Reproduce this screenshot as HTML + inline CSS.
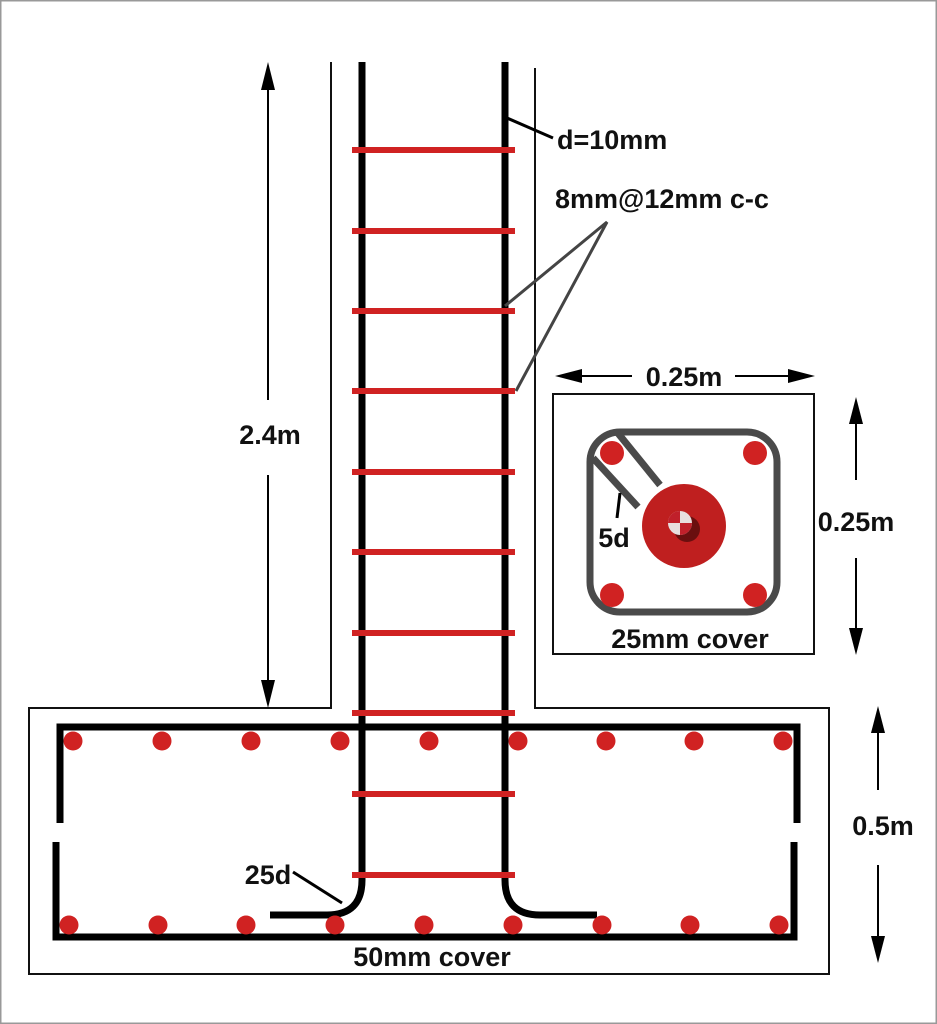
<!DOCTYPE html>
<html><head><meta charset="utf-8"><style>
html,body{margin:0;padding:0;background:#fff}
svg{display:block}
text{font-family:"Liberation Sans Narrow","Liberation Sans",sans-serif;font-weight:bold;font-size:27px;fill:#111}
</style></head><body>
<svg width="937" height="1024" viewBox="0 0 937 1024" xmlns="http://www.w3.org/2000/svg">
<rect x="0.75" y="0.75" width="935.5" height="1022.5" fill="#fff" stroke="#999" stroke-width="1.5"/>
<path d="M331 62 V708 H29 V974 H829 V708 H535 V68" fill="none" stroke="#111" stroke-width="2"/>
<path d="M362 62 V880 Q362 915 327 915 H270" fill="none" stroke="#000" stroke-width="7"/>
<path d="M505 62 V880 Q505 915 540 915 H597" fill="none" stroke="#000" stroke-width="7"/>
<path d="M60 823 V727 H797 V823" fill="none" stroke="#000" stroke-width="7"/>
<path d="M56 842 V937 H794 V842" fill="none" stroke="#000" stroke-width="7"/>
<g stroke="#d02222" stroke-width="6">
<line x1="352" y1="150" x2="515" y2="150"/>
<line x1="352" y1="231" x2="515" y2="231"/>
<line x1="352" y1="311" x2="515" y2="311"/>
<line x1="352" y1="391" x2="515" y2="391"/>
<line x1="352" y1="472" x2="515" y2="472"/>
<line x1="352" y1="552" x2="515" y2="552"/>
<line x1="352" y1="633" x2="515" y2="633"/>
<line x1="352" y1="713" x2="515" y2="713"/>
<line x1="352" y1="794" x2="515" y2="794"/>
<line x1="352" y1="875" x2="515" y2="875"/>
</g>
<g fill="#d02222">
<circle cx="73" cy="741" r="9.5"/><circle cx="162" cy="741" r="9.5"/><circle cx="251" cy="741" r="9.5"/><circle cx="340" cy="741" r="9.5"/><circle cx="429" cy="741" r="9.5"/><circle cx="518" cy="741" r="9.5"/><circle cx="606" cy="741" r="9.5"/><circle cx="694" cy="741" r="9.5"/><circle cx="783" cy="741" r="9.5"/>
<circle cx="69" cy="925" r="9.5"/><circle cx="158" cy="925" r="9.5"/><circle cx="246" cy="925" r="9.5"/><circle cx="335" cy="925" r="9.5"/><circle cx="424" cy="925" r="9.5"/><circle cx="513" cy="925" r="9.5"/><circle cx="602" cy="925" r="9.5"/><circle cx="690" cy="925" r="9.5"/><circle cx="779" cy="925" r="9.5"/>
</g>
<g stroke="#000" stroke-width="2">
<line x1="268" y1="85" x2="268" y2="400"/>
<line x1="268" y1="475" x2="268" y2="685"/>
</g>
<polygon points="268,62 261,90 275,90" fill="#000"/>
<polygon points="268,708 261,680 275,680" fill="#000"/>
<text x="270" y="444" text-anchor="middle">2.4m</text>
<line x1="507" y1="118" x2="553" y2="138" stroke="#000" stroke-width="3"/>
<text x="557" y="149">d=10mm</text>
<text x="555" y="208">8mm@12mm c-c</text>
<polyline points="505,306 607,222 516,391" fill="none" stroke="#444" stroke-width="3"/>
<rect x="553" y="394" width="261" height="260" fill="none" stroke="#111" stroke-width="2"/>
<line x1="578" y1="376" x2="632" y2="376" stroke="#000" stroke-width="2"/>
<line x1="735" y1="376" x2="792" y2="376" stroke="#000" stroke-width="2"/>
<polygon points="555,376 582,369 582,383" fill="#000"/>
<polygon points="815,376 788,369 788,383" fill="#000"/>
<text x="684" y="386" text-anchor="middle">0.25m</text>
<line x1="856" y1="420" x2="856" y2="480" stroke="#000" stroke-width="2"/>
<line x1="856" y1="558" x2="856" y2="632" stroke="#000" stroke-width="2"/>
<polygon points="856,397 849,424 863,424" fill="#000"/>
<polygon points="856,655 849,628 863,628" fill="#000"/>
<text x="856" y="531" text-anchor="middle">0.25m</text>
<rect x="590" y="432" width="187" height="180" rx="30" fill="none" stroke="#4a4a4a" stroke-width="7"/>
<line x1="617" y1="432" x2="660" y2="485" stroke="#4a4a4a" stroke-width="7"/>
<line x1="593" y1="458" x2="638" y2="507" stroke="#4a4a4a" stroke-width="7"/>
<g fill="#d02222">
<circle cx="612" cy="453" r="12"/><circle cx="755" cy="453" r="12"/><circle cx="612" cy="595" r="12"/><circle cx="755" cy="595" r="12"/>
</g>
<circle cx="684" cy="526" r="42" fill="#bf1f1f"/>
<circle cx="687" cy="529" r="13" fill="#6a0f0f"/>
<circle cx="680" cy="523" r="12" fill="#e8dede"/>
<path d="M680 523 V511 A12 12 0 0 0 668 523 Z" fill="#c0202a"/>
<path d="M680 523 V535 A12 12 0 0 0 692 523 Z" fill="#c0202a"/>
<line x1="620" y1="493" x2="617" y2="518" stroke="#000" stroke-width="3"/>
<text x="614" y="547" text-anchor="middle">5d</text>
<text x="690" y="648" text-anchor="middle">25mm cover</text>
<line x1="293" y1="872" x2="342" y2="903" stroke="#000" stroke-width="3"/>
<text x="268" y="884" text-anchor="middle">25d</text>
<text x="432" y="966" text-anchor="middle">50mm cover</text>
<line x1="878" y1="730" x2="878" y2="790" stroke="#000" stroke-width="2"/>
<line x1="878" y1="865" x2="878" y2="940" stroke="#000" stroke-width="2"/>
<polygon points="878,706 871,733 885,733" fill="#000"/>
<polygon points="878,963 871,936 885,936" fill="#000"/>
<text x="883" y="835" text-anchor="middle">0.5m</text>
</svg>
</body></html>
